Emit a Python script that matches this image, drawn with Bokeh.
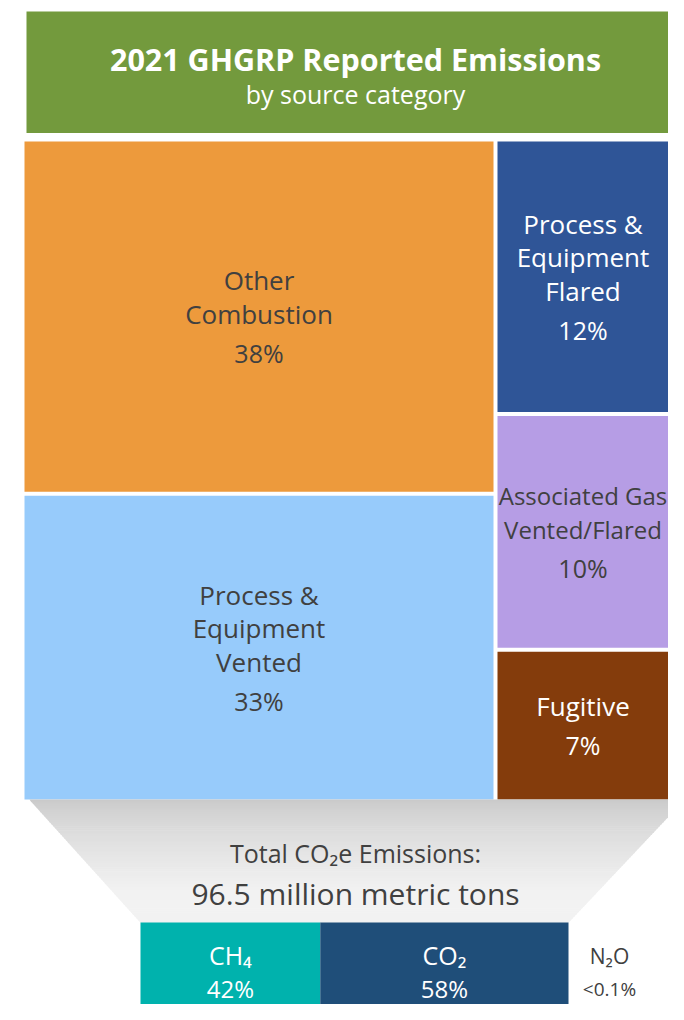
from bokeh.plotting import figure
from bokeh.models import Range1d, ColumnDataSource
from bokeh.embed import file_html
from bokeh.resources import INLINE
from bokeh.core.properties import value

# ---------------- data ----------------
title_text = "2021 GHGRP Reported Emissions"
subtitle_text = "by source category"

category_lines = [
    ["Other", "Combustion"],
    ["Process &", "Equipment", "Vented"],
    ["Process &", "Equipment", "Flared"],
    ["Associated Gas", "Vented/Flared"],
    ["Fugitive"],
]
category_shares = [38.3, 33.2, 11.9, 10.2, 6.5]
category_labels = ["38%", "33%", "12%", "10%", "7%"]
category_colors = ["#ed9a3c", "#97cbfb", "#2f5597", "#b69de5", "#843c0c"]
category_text_colors = ["#404040", "#404040", "#ffffff", "#404040", "#ffffff"]

total_line1 = "Total CO\u2082e Emissions:"
total_line2 = "96.5 million metric tons"

gases = ["CH\u2084", "CO\u2082"]
gas_shares = [42, 58]
gas_labels = ["42%", "58%"]
gas_colors = ["#00b2ad", "#1f4e79"]
minor_gas = "N\u2082O"
minor_gas_label = "<0.1%"

FONT = value("Open Sans")
DARK = "#404040"

W, H = 668, 1004
# ---------------- figure (data units = picture pixels) ----------------
p = figure(width=W, height=H, x_range=Range1d(0, W), y_range=Range1d(H, 0),
           output_backend="svg", toolbar_location=None, min_border=0,
           x_axis_location=None, y_axis_location=None)
p.grid.visible = False
p.outline_line_color = None
p.background_fill_color = "white"
p.border_fill_color = "white"

RIGHT = W  # visible right edge

# ---------------- header ----------------
p.quad(left=[26], right=[RIGHT + 10], top=[11], bottom=[132.5], fill_color="#739a3d", line_color=None)
p.text(x=[355], y=[58], text=[title_text], text_align="center", text_baseline="middle",
       text_font=FONT, text_font_style="bold", text_font_size="30.5px", text_color="white")
p.text(x=[355], y=[93], text=[subtitle_text], text_align="center", text_baseline="middle",
       text_font=FONT, text_font_size="25px", text_color="white")

# ---------------- treemap ----------------
X0, GAP = 24.0, 4.0
Y0, Y1 = 141.0, 799.0
left_w = 469.0
split = 2
cols = [(X0, X0 + left_w, category_shares[:split]),
        (X0 + left_w + GAP, RIGHT + 10, category_shares[split:])]

L, R, T, B = [], [], [], []
for cx0, cx1, vals in cols:
    avail = (Y1 - Y0) - GAP * (len(vals) - 1)
    s = sum(vals)
    y = Y0
    for v in vals:
        h = avail * v / s
        L.append(cx0); R.append(cx1); T.append(y); B.append(y + h)
        y += h + GAP

p.quad(left=L, right=R, top=T, bottom=B, fill_color=category_colors, line_color=None)

tx, ty, tt, tc, fs = [], [], [], [], []
LINE, PCT = 33.5, 39.0
for i, lines in enumerate(category_lines):
    cx = (L[i] + min(R[i], RIGHT)) / 2
    cy = (T[i] + B[i]) / 2
    block = LINE * (len(lines) - 1) + PCT
    y = cy - block / 2
    long_block = max(len(s) for s in lines) > 12
    for ln in lines:
        tx.append(cx); ty.append(y); tt.append(ln); tc.append(category_text_colors[i])
        fs.append("24px" if long_block else "26px")
        y += LINE
    y += PCT - LINE
    tx.append(cx); ty.append(y); tt.append(category_labels[i]); tc.append(category_text_colors[i])
    fs.append("25px")

p.text(x="x", y="y", text="t", text_color="c", text_font_size="fs",
       source=ColumnDataSource(dict(x=tx, y=ty, t=tt, c=tc, fs=fs)),
       text_align="center", text_baseline="middle", text_font=FONT)

# ---------------- funnel (gradient trapezoid) ----------------
GX0, GX1 = 140.0, 568.0
FT, FB = 799.0, 922.0
top_l, top_r = 29.0, 684.0
N = 60
xs, ys, fc = [], [], []
for k in range(N):
    a0, a1 = k / N, (k + 1) / N
    ya, yb = FT + (FB - FT) * a0, FT + (FB - FT) * a1 + 0.6
    la, lb = top_l + (GX0 - top_l) * a0, top_l + (GX0 - top_l) * a1
    ra, rb = top_r + (GX1 - top_r) * a0, top_r + (GX1 - top_r) * a1
    xs.append([la, ra, rb, lb]); ys.append([ya, ya, yb, yb])
    t = min(1.0, ((k + 0.5) / N) / 0.75) ** 0.7
    g = int(round(200 + (242 - 200) * t))
    fc.append("#%02x%02x%02x" % (g, g, g))
p.patches(xs=xs, ys=ys, fill_color=fc, line_color=None)

p.text(x=[355], y=[852], text=[total_line1], text_align="center", text_baseline="middle",
       text_font=FONT, text_font_size="25px", text_color=DARK)
p.text(x=[355], y=[893], text=[total_line2], text_align="center", text_baseline="middle",
       text_font=FONT, text_font_size="30px", text_color=DARK)

# ---------------- gas bars ----------------
gsum = sum(gas_shares)
gl, gr = [], []
x = GX0
for v in gas_shares:
    w = (GX1 - GX0) * v / gsum
    gl.append(x); gr.append(x + w); x += w
p.quad(left=gl, right=gr, top=[FB] * len(gl), bottom=[H + 20] * len(gl),
       fill_color=gas_colors, line_color=None)
gcx = [(a + b) / 2 for a, b in zip(gl, gr)]
p.text(x=gcx, y=[954] * len(gcx), text=gases, text_align="center", text_baseline="middle",
       text_font=FONT, text_font_size="25px", text_color="white")
p.text(x=gcx, y=[988] * len(gcx), text=gas_labels, text_align="center", text_baseline="middle",
       text_font=FONT, text_font_size="24px", text_color="white")
p.text(x=[609], y=[955], text=[minor_gas], text_align="center", text_baseline="middle",
       text_font=FONT, text_font_size="21px", text_color=DARK)
p.text(x=[609], y=[988], text=[minor_gas_label], text_align="center", text_baseline="middle",
       text_font=FONT, text_font_size="19px", text_color=DARK)

open("out.html", "w").write(file_html(p, INLINE))
